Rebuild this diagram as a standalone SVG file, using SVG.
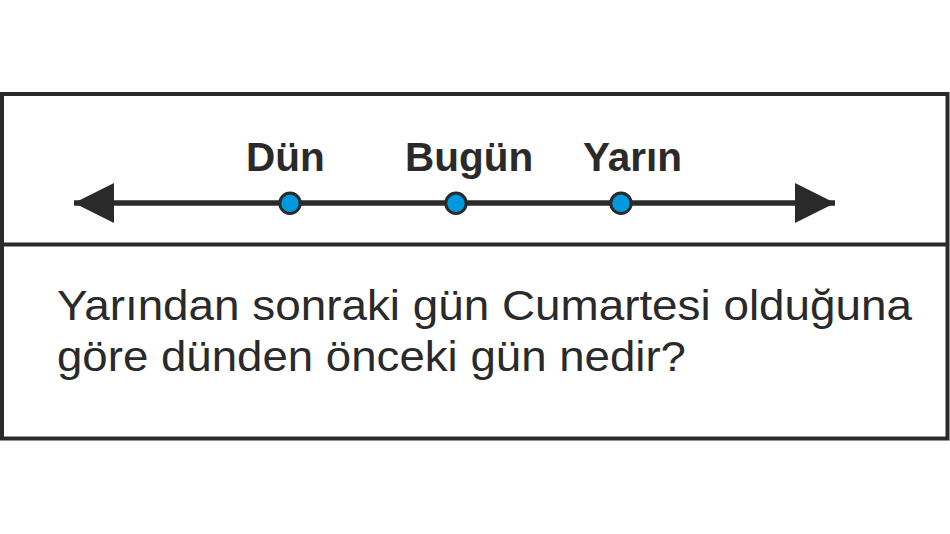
<svg xmlns="http://www.w3.org/2000/svg" width="950" height="534" viewBox="0 0 950 534">
<style>
.frame{fill:none;stroke:#2a2a2a;stroke-width:4}
.axis{stroke:#2a2a2a;stroke-width:5.5;fill:none}
.dot{fill:#0098DF;stroke:#2a2a2a;stroke-width:3}
.lbl{font-family:"Liberation Sans",Arial,sans-serif;font-weight:bold;font-size:40.5px;fill:#2a2a2a}
.q{font-family:"Liberation Sans",Arial,sans-serif;font-size:42px;fill:#2a2a2a}
</style>
<defs>
<marker id="ah" markerUnits="userSpaceOnUse" markerWidth="40" markerHeight="40" viewBox="0 0 39 39" refX="39" refY="19.5" orient="auto-start-reverse">
<path d="M0,0 L39,19.5 L0,39 Z" fill="#2a2a2a"/>
</marker>
</defs>
<rect width="950" height="534" fill="#ffffff"/>
<g id="frame">
<rect class="frame" x="2" y="94" width="945.5" height="344.5"/>
<line x1="2" y1="244.5" x2="947.5" y2="244.5" stroke="#2a2a2a" stroke-width="4"/>
</g>
<g id="connectors">
<line class="axis" x1="74" y1="203" x2="835" y2="203" marker-start="url(#ah)" marker-end="url(#ah)"/>
</g>
<g id="node-dun">
<circle class="dot" cx="290" cy="203.3" r="10.2"/>
<text class="lbl" x="246" y="170.5">Dün</text>
</g>
<g id="node-bugun">
<circle class="dot" cx="456" cy="203.3" r="10.2"/>
<text class="lbl" x="405" y="170.5">Bugün</text>
</g>
<g id="node-yarin">
<circle class="dot" cx="621" cy="203.3" r="10.2"/>
<text class="lbl" x="583" y="170.5">Yarın</text>
</g>
<g id="question">
<text class="q" x="57" y="320" textLength="855" lengthAdjust="spacingAndGlyphs">Yarından sonraki gün Cumartesi olduğuna</text>
<text class="q" x="57" y="371" textLength="629" lengthAdjust="spacingAndGlyphs">göre dünden önceki gün nedir?</text>
</g>
</svg>
